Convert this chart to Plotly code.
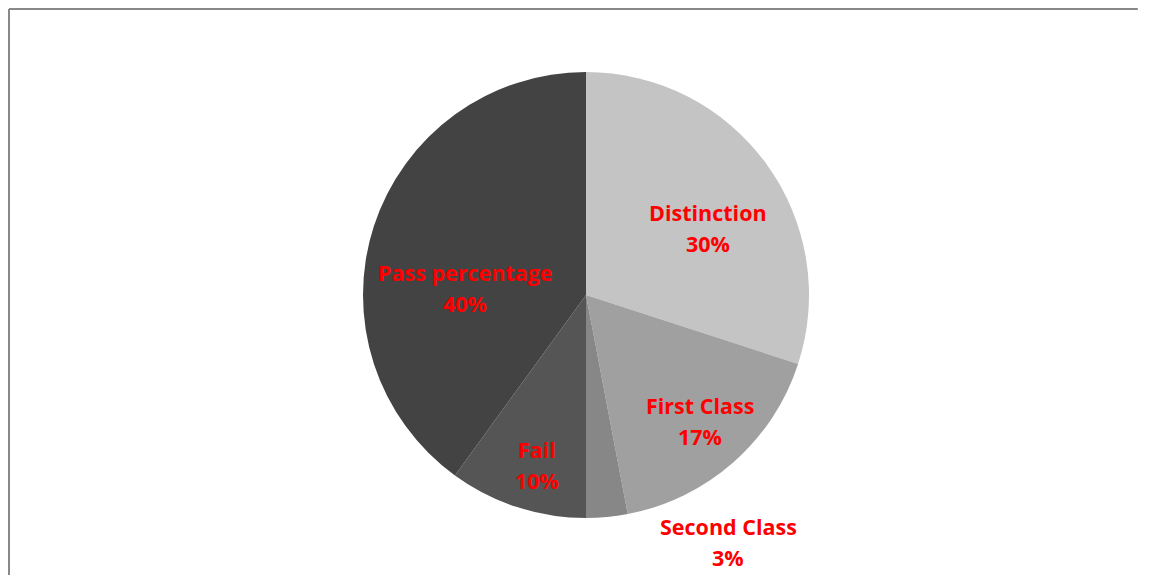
import plotly.graph_objects as go

categories = ["Distinction", "First Class", "Second Class", "Fail", "Pass percentage"]
values = [30, 17, 3, 10, 40]
colors = ["#c4c4c4", "#a0a0a0", "#878787", "#555555", "#434343"]

# page offset (default body margin) compensation
OFF = 8
W, H = 1155 - OFF, 575 - OFF

# label block centres (pixels in the visible 1155x575 window)
label_px = [(708, 228), (700, 421), (728, 542), (537, 465), (465, 288)]

cx, cy, r = 586 - OFF, 295 - OFF, 223

fig = go.Figure(go.Pie(
    labels=categories,
    values=values,
    sort=False,
    direction="clockwise",
    rotation=0,
    marker=dict(colors=colors, line=dict(width=0)),
    textinfo="none",
    hoverinfo="label+percent",
    domain=dict(x=[(cx - r) / W, (cx + r) / W], y=[(H - cy - r) / H, (H - cy + r) / H]),
    showlegend=False,
))

total = sum(values)
annos = []
font = dict(family="Open Sans", size=21.5, color="#ff0000")
for name, v, (px, py) in zip(categories, values, label_px):
    pct = f"{round(100 * v / total)}%"
    px, py = px - OFF, py - OFF
    for txt, dy in ((f"<b>{name}</b>", -15.5), (f"<b>{pct}</b>", 15.5)):
        annos.append(dict(x=px / W, y=1 - (py + dy) / H, xref="paper", yref="paper",
                          text=txt, showarrow=False, xanchor="center", yanchor="middle",
                          font=font))

border = dict(color="#888888", width=2)
fig.update_layout(
    width=W, height=H,
    margin=dict(l=0, r=0, t=0, b=0),
    paper_bgcolor="white",
    plot_bgcolor="white",
    annotations=annos,
    shapes=[
        dict(type="line", xref="paper", yref="paper",
             x0=1 / W, x1=0.985, y0=1 - 1 / H, y1=1 - 1 / H, line=border),
        dict(type="line", xref="paper", yref="paper",
             x0=1 / W, x1=1 / W, y0=0.0, y1=1 - 1 / H, line=border),
    ],
)

fig.write_html("out.html")
